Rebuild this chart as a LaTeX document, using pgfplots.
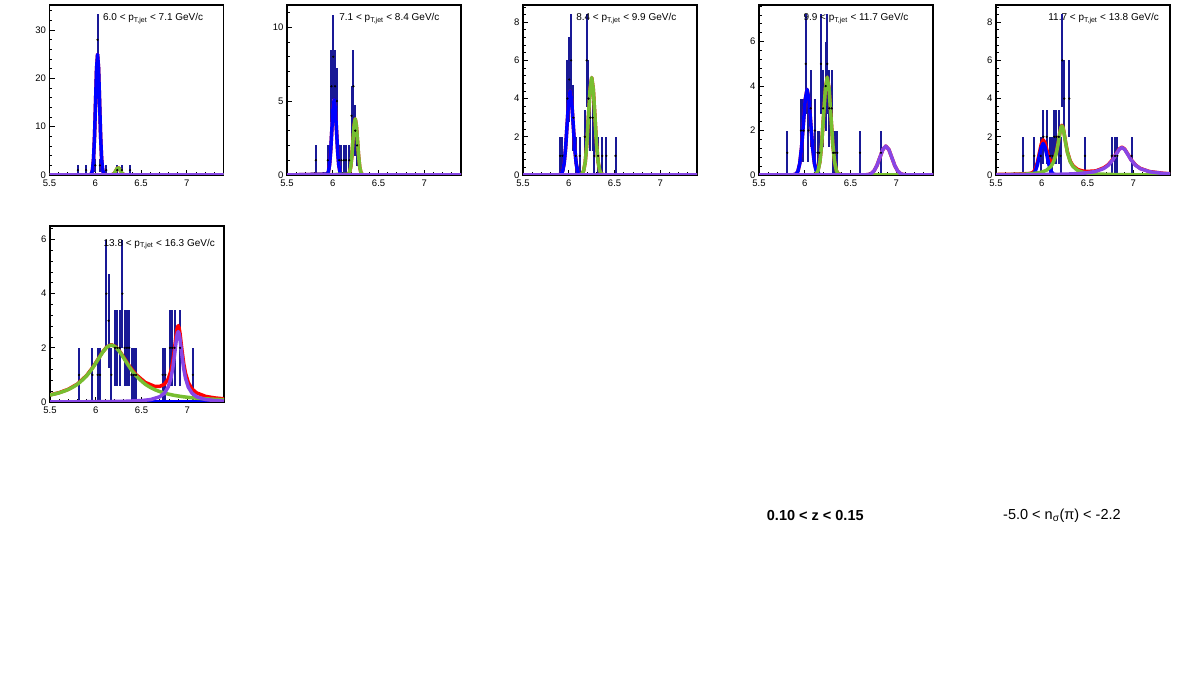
\documentclass[border=0pt]{standalone}
\usepackage{fontspec}
\setmainfont{Liberation Sans}
\usepackage{pgfplots}
\pgfplotsset{compat=1.18}
\definecolor{navy}{RGB}{25,25,150}
\definecolor{fblue}{RGB}{0,0,255}
\definecolor{fred}{RGB}{255,0,0}
\definecolor{fgreen}{RGB}{119,190,48}
\definecolor{fviolet}{RGB}{135,70,230}
\pgfplotsset{
  rp/.style={scale only axis, width=174pt, height=170pt, xmin=5.5, xmax=7.4, ymin=0,
    axis line style={line width=1.4pt}, tick align=inside, xtick pos=left, ytick pos=left,
    xtick={5.5,6,6.5,7}, xticklabels={5.5,6,6.5,7},
    minor xtick={5.6,5.7,5.8,5.9,6.1,6.2,6.3,6.4,6.6,6.7,6.8,6.9,7.1,7.2,7.3},
    major tick length=5pt, minor tick length=2.5pt,
    tick style={black, line width=0.8pt},
    tick label style={font=\fontsize{9.5}{10}\selectfont, black},
    xticklabel style={yshift=-1.5pt},
    /pgf/number format/assume math mode=true, scaled ticks=false, anchor=south west},
  dat/.style={only marks, mark=*, mark size=0.9pt, black, mark options={fill=black},
    error bars/y dir=both, error bars/y explicit, error bars/error mark=none,
    error bars/error bar style={draw=navy, solid, line width=2pt}},
  fit/.style={line width=3.5pt, line join=round},
}
\tikzset{ttl/.style={anchor=base west, font=\fontsize{10}{12}\selectfont, inner sep=0pt}}
\begin{document}
\begin{tikzpicture}
\path[use as bounding box, fill=white] (0pt,0pt) rectangle (1181pt,677pt);

% ---------------- Panel 1
\begin{axis}[rp, at={(49.5pt,502pt)}, ymax=35.2, ytick={0,10,20,30},
  minor ytick={2,4,6,8,12,14,16,18,22,24,26,28,32,34}]
\addplot[dat] table[row sep=\\, x=x, y=y, y error=e] {x y e\\
5.81 1 1\\ 5.90 1 1\\ 6.00 2 1.414\\ 6.025 28 5.29\\ 6.05 2 1.414\\ 6.12 1 1\\ 6.24 1 1\\ 6.29 1 1\\ 6.38 1 1\\};
\addplot[fit, fred] coordinates {(5.5,0)(5.937,0.0075)(5.959,0.28)(5.97,1.10)(5.981,3.38)(5.992,8.12)(6.003,15.16)(6.014,22.06)(6.025,25)(6.036,22.06)(6.047,15.16)(6.058,8.12)(6.069,3.38)(6.08,1.10)(6.091,0.28)(6.113,0.0075)(6.175,0.017)(6.2,0.203)(6.2125,0.487)(6.225,0.91)(6.2375,1.324)(6.25,1.5)(6.2625,1.324)(6.275,0.91)(6.2875,0.487)(6.3,0.203)(6.325,0.017)(7.4,0)};
\addplot[fit, fblue] coordinates {(5.5,0)(5.937,0.0075)(5.959,0.28)(5.97,1.10)(5.981,3.38)(5.992,8.12)(6.003,15.16)(6.014,22.06)(6.025,25)(6.036,22.06)(6.047,15.16)(6.058,8.12)(6.069,3.38)(6.08,1.10)(6.091,0.28)(6.113,0.0075)(7.4,0)};
\addplot[fit, fgreen] coordinates {(5.5,0)(6.175,0.017)(6.2,0.203)(6.2125,0.487)(6.225,0.91)(6.2375,1.324)(6.25,1.5)(6.2625,1.324)(6.275,0.91)(6.2875,0.487)(6.3,0.203)(6.325,0.017)(7.4,0)};
\addplot[fit, fviolet] coordinates {(5.5,0)(7.4,0)};
\node[ttl] at (rel axis cs:0.307,0.908) {6.0 < p\textsubscript{T,jet} < 7.1 GeV/c};
\end{axis}

% ---------------- Panel 2
\begin{axis}[rp, at={(287pt,502pt)}, ymax=11.5, ytick={0,5,10},
  minor ytick={1,2,3,4,6,7,8,9,11}]
\addplot[dat] table[row sep=\\, x=x, y=y, y error=e] {x y e\\
5.815 1 1\\ 5.945 1 1\\ 5.985 6 2.449\\ 6.005 8 2.828\\ 6.025 6 2.449\\ 6.045 5 2.236\\ 6.07 1 1\\ 6.095 1 1\\ 6.12 1 1\\ 6.145 1 1\\ 6.18 1 1\\ 6.205 4 2\\ 6.225 6 2.449\\ 6.245 3 1.732\\ 6.265 2 1.414\\};
\addplot[fit, fred] coordinates {(5.5,0)(5.94,0.057)(5.9525,0.224)(5.965,0.69)(5.9775,1.656)(5.99,3.093)(6.0025,4.501)(6.015,5.1)(6.0275,4.501)(6.04,3.093)(6.0525,1.656)(6.065,0.69)(6.0775,0.224)(6.09,0.057)(6.115,0.0015)(6.17,0.042)(6.1825,0.167)(6.195,0.514)(6.2075,1.234)(6.22,2.305)(6.2325,3.354)(6.245,3.8)(6.2575,3.354)(6.27,2.305)(6.2825,1.234)(6.295,0.514)(6.3075,0.167)(6.32,0.042)(6.345,0.001)(7.4,0)};
\addplot[fit, fblue] coordinates {(5.5,0)(5.94,0.057)(5.9525,0.224)(5.965,0.69)(5.9775,1.656)(5.99,3.093)(6.0025,4.501)(6.015,5.1)(6.0275,4.501)(6.04,3.093)(6.0525,1.656)(6.065,0.69)(6.0775,0.224)(6.09,0.057)(6.115,0.0015)(7.4,0)};
\addplot[fit, fgreen] coordinates {(5.5,0)(6.17,0.042)(6.1825,0.167)(6.195,0.514)(6.2075,1.234)(6.22,2.305)(6.2325,3.354)(6.245,3.8)(6.2575,3.354)(6.27,2.305)(6.2825,1.234)(6.295,0.514)(6.3075,0.167)(6.32,0.042)(6.345,0.001)(7.4,0)};
\addplot[fit, fviolet] coordinates {(5.5,0)(7.4,0)};
\node[ttl] at (rel axis cs:0.300,0.908) {7.1 < p\textsubscript{T,jet} < 8.4 GeV/c};
\end{axis}

% ---------------- Panel 3
\begin{axis}[rp, at={(523pt,502pt)}, ymax=8.9, ytick={0,2,4,6,8},
  minor ytick={0.4,0.8,1.2,1.6,2.4,2.8,3.2,3.6,4.4,4.8,5.2,5.6,6.4,6.8,7.2,7.6,8.4,8.8}]
\addplot[dat] table[row sep=\\, x=x, y=y, y error=e] {x y e\\
5.905 1 1\\ 5.93 1 1\\ 5.985 4 2\\ 6.005 5 2.236\\ 6.025 6 2.449\\ 6.05 3 1.732\\ 6.075 1 1\\ 6.12 1 1\\ 6.175 2 1.414\\ 6.195 6 2.449\\ 6.215 4 2\\ 6.235 3 1.732\\ 6.26 3 1.732\\ 6.28 1 1\\ 6.32 1 1\\ 6.365 1 1\\ 6.41 1 1\\ 6.51 1 1\\};
\addplot[fit, fred] coordinates {(5.5,0)(5.883,0.0013)(5.916,0.049)(5.9325,0.193)(5.949,0.595)(5.9655,1.429)(5.982,2.669)(5.9985,3.883)(6.015,4.4)(6.0315,3.883)(6.048,2.669)(6.0645,1.429)(6.081,0.595)(6.0975,0.193)(6.114,0.049)(6.13,0.03)(6.145,0.06)(6.1625,0.224)(6.18,0.69)(6.1975,1.656)(6.215,3.093)(6.2325,4.501)(6.25,5.1)(6.2675,4.501)(6.285,3.093)(6.3025,1.656)(6.32,0.69)(6.3375,0.224)(6.355,0.057)(6.39,0.0015)(7.4,0)};
\addplot[fit, fblue] coordinates {(5.5,0)(5.883,0.0013)(5.916,0.049)(5.9325,0.193)(5.949,0.595)(5.9655,1.429)(5.982,2.669)(5.9985,3.883)(6.015,4.4)(6.0315,3.883)(6.048,2.669)(6.0645,1.429)(6.081,0.595)(6.0975,0.193)(6.114,0.049)(6.147,0.0013)(7.4,0)};
\addplot[fit, fgreen] coordinates {(5.5,0)(6.11,0.0015)(6.145,0.057)(6.1625,0.224)(6.18,0.69)(6.1975,1.656)(6.215,3.093)(6.2325,4.501)(6.25,5.1)(6.2675,4.501)(6.285,3.093)(6.3025,1.656)(6.32,0.69)(6.3375,0.224)(6.355,0.057)(6.39,0.0015)(7.4,0)};
\addplot[fit, fviolet] coordinates {(5.5,0)(7.4,0)};
\node[ttl] at (rel axis cs:0.305,0.908) {8.4 < p\textsubscript{T,jet} < 9.9 GeV/c};
\end{axis}

% ---------------- Panel 4
\begin{axis}[rp, at={(759pt,502pt)}, ymax=7.65, ytick={0,2,4,6},
  minor ytick={0.4,0.8,1.2,1.6,2.4,2.8,3.2,3.6,4.4,4.8,5.2,5.6,6.4,6.8,7.2,7.6}]
\addplot[dat] table[row sep=\\, x=x, y=y, y error=e] {x y e\\
5.809 1 1\\ 5.958 2 1.414\\ 5.985 2 1.414\\ 6.01 5 2.236\\ 6.04 2 1.414\\ 6.064 3 1.732\\ 6.11 2 1.414\\ 6.14 1 1\\ 6.158 1 1\\ 6.177 5 2.236\\ 6.2 3 1.732\\ 6.228 4 2\\ 6.245 5 2.236\\ 6.268 3 1.732\\ 6.293 3 1.732\\ 6.31 1 1\\ 6.33 1 1\\ 6.355 1 1\\ 6.603 1 1\\ 6.832 1 1\\};
\addplot[fit, fred] coordinates {(5.5,0)(5.865,0.0013)(5.905,0.043)(5.925,0.169)(5.945,0.521)(5.965,1.25)(5.985,2.335)(6.005,3.398)(6.025,3.85)(6.045,3.398)(6.065,2.335)(6.085,1.25)(6.105,0.531)(6.125,0.218)(6.145,0.236)(6.165,0.595)(6.185,1.429)(6.205,2.669)(6.225,3.883)(6.245,4.4)(6.265,3.883)(6.285,2.669)(6.305,1.429)(6.325,0.595)(6.345,0.193)(6.365,0.049)(6.405,0.0015)(6.625,0.0004)(6.69,0.0144)(6.7225,0.057)(6.755,0.176)(6.7875,0.422)(6.82,0.789)(6.8525,1.147)(6.885,1.3)(6.9175,1.147)(6.95,0.789)(6.9825,0.422)(7.015,0.176)(7.0475,0.057)(7.08,0.0144)(7.145,0.0004)(7.4,0)};
\addplot[fit, fblue] coordinates {(5.5,0)(5.865,0.0013)(5.905,0.043)(5.925,0.169)(5.945,0.521)(5.965,1.25)(5.985,2.335)(6.005,3.398)(6.025,3.85)(6.045,3.398)(6.065,2.335)(6.085,1.25)(6.105,0.521)(6.125,0.169)(6.145,0.043)(6.185,0.0013)(7.4,0)};
\addplot[fit, fgreen] coordinates {(5.5,0)(6.085,0.0015)(6.125,0.049)(6.145,0.193)(6.165,0.595)(6.185,1.429)(6.205,2.669)(6.225,3.883)(6.245,4.4)(6.265,3.883)(6.285,2.669)(6.305,1.429)(6.325,0.595)(6.345,0.193)(6.365,0.049)(6.405,0.0015)(7.4,0)};
\addplot[fit, fviolet] coordinates {(5.5,0)(6.625,0.0004)(6.69,0.0144)(6.7225,0.057)(6.755,0.176)(6.7875,0.422)(6.82,0.789)(6.8525,1.147)(6.885,1.3)(6.9175,1.147)(6.95,0.789)(6.9825,0.422)(7.015,0.176)(7.0475,0.057)(7.08,0.0144)(7.145,0.0004)(7.4,0)};
\node[ttl] at (rel axis cs:0.255,0.908) {9.9 < p\textsubscript{T,jet} < 11.7 GeV/c};
\end{axis}

% ---------------- Panel 5
\begin{axis}[rp, at={(996pt,502pt)}, ymax=8.9, ytick={0,2,4,6,8},
  minor ytick={0.4,0.8,1.2,1.6,2.4,2.8,3.2,3.6,4.4,4.8,5.2,5.6,6.4,6.8,7.2,7.6,8.4,8.8}]
\addplot[dat] table[row sep=\\, x=x, y=y, y error=e] {x y e\\
5.798 1 1\\ 5.918 1 1\\ 5.988 1 1\\ 6.017 2 1.414\\ 6.053 2 1.414\\ 6.09 1 1\\ 6.115 1 1\\ 6.137 2 1.414\\ 6.16 2 1.414\\ 6.186 2 1.414\\ 6.205 1 1\\ 6.224 6 2.449\\ 6.245 4 2\\ 6.3 4 2\\ 6.472 1 1\\ 6.764 1 1\\ 6.8 1 1\\ 6.825 1 1\\ 6.98 1 1\\};
\addplot[fit, fred] coordinates {(5.5,0.024)(5.7,0.040)(5.85,0.071)(5.889,0.103)(5.91,0.166)(5.931,0.330)(5.952,0.657)(5.973,1.139)(5.994,1.618)(6.015,1.842)(6.036,1.687)(6.057,1.283)(6.078,0.892)(6.099,0.685)(6.12,0.692)(6.141,0.881)(6.16,1.202)(6.18,1.707)(6.2,2.298)(6.21,2.516)(6.22,2.599)(6.23,2.518)(6.24,2.300)(6.26,1.713)(6.28,1.207)(6.31,0.736)(6.34,0.487)(6.39,0.294)(6.44,0.215)(6.49,0.184)(6.59,0.214)(6.675,0.371)(6.725,0.534)(6.775,0.814)(6.815,1.132)(6.845,1.360)(6.875,1.458)(6.905,1.356)(6.935,1.125)(6.975,0.802)(7.025,0.516)(7.075,0.345)(7.175,0.180)(7.325,0.088)(7.4,0.066)};
\addplot[fit, fblue] coordinates {(5.5,0)(5.847,0.0006)(5.889,0.018)(5.91,0.072)(5.931,0.223)(5.952,0.536)(5.973,1.0)(5.994,1.456)(6.015,1.65)(6.036,1.456)(6.057,1.0)(6.078,0.536)(6.099,0.223)(6.12,0.072)(6.141,0.018)(6.183,0.0006)(7.4,0)};
\addplot[fit, fgreen] coordinates {(5.5,0.0149)(5.7,0.0284)(5.85,0.0556)(5.95,0.1024)(6.0,0.151)(6.05,0.2436)(6.1,0.446)(6.13,0.699)(6.16,1.173)(6.18,1.681)(6.2,2.27)(6.21,2.488)(6.22,2.57)(6.23,2.488)(6.24,2.27)(6.26,1.681)(6.28,1.173)(6.31,0.699)(6.34,0.446)(6.39,0.2436)(6.44,0.151)(6.49,0.1024)(6.59,0.0556)(6.74,0.0284)(6.94,0.0149)(7.14,0.0092)(7.4,0.0056)};
\addplot[fit, fviolet] coordinates {(5.5,0.0092)(5.875,0.0172)(6.075,0.0267)(6.275,0.0468)(6.425,0.0812)(6.575,0.1706)(6.675,0.3344)(6.725,0.5035)(6.775,0.7886)(6.815,1.110)(6.845,1.340)(6.875,1.44)(6.905,1.340)(6.935,1.110)(6.975,0.7886)(7.025,0.5035)(7.075,0.3344)(7.175,0.1706)(7.325,0.0812)(7.4,0.0606)};
\node[ttl] at (rel axis cs:0.300,0.908) {11.7 < p\textsubscript{T,jet} < 13.8 GeV/c};
\end{axis}

% ---------------- Panel 6
\begin{axis}[rp, at={(50pt,275pt)}, height=176pt, ymax=6.5, ytick={0,2,4,6},
  minor ytick={0.4,0.8,1.2,1.6,2.4,2.8,3.2,3.6,4.4,4.8,5.2,5.6,6.4}]
\addplot[dat] table[row sep=\\, x=x, y=y, y error=e] {x y e\\
5.817 1 1\\ 5.963 1 1\\ 6.02 1 1\\ 6.046 1 1\\ 6.115 4 2\\ 6.14 3 1.732\\ 6.17 1 1\\ 6.21 2 1.414\\ 6.235 2 1.414\\ 6.26 2 1.414\\ 6.29 4 2\\ 6.315 2 1.414\\ 6.34 2 1.414\\ 6.365 2 1.414\\ 6.39 1 1\\ 6.415 1 1\\ 6.44 1 1\\ 6.73 1 1\\ 6.76 1 1\\ 6.81 2 1.414\\ 6.835 2 1.414\\ 6.86 2 1.414\\ 6.92 2 1.414\\ 7.06 1 1\\};
\addplot[fit, fred] coordinates {(5.5,0.261)(5.6,0.344)(5.7,0.469)(5.8,0.665)(5.9,0.979)(5.97,1.290)(6.02,1.555)(6.07,1.822)(6.12,2.033)(6.17,2.116)(6.22,2.037)(6.27,1.831)(6.32,1.569)(6.37,1.310)(6.44,1.010)(6.54,0.723)(6.64,0.581)(6.7,0.578)(6.75,0.657)(6.79,0.844)(6.82,1.146)(6.84,1.490)(6.86,1.986)(6.88,2.547)(6.89,2.748)(6.9,2.820)(6.91,2.737)(6.92,2.525)(6.94,1.942)(6.96,1.424)(6.98,1.058)(7.01,0.721)(7.05,0.485)(7.1,0.337)(7.2,0.207)(7.3,0.150)(7.4,0.117)};
\addplot[fit, fblue] coordinates {(5.5,0)(7.4,0)};
\addplot[fit, fgreen, smooth] coordinates {(5.5,0.2567)(5.6,0.3387)(5.7,0.463)(5.8,0.658)(5.9,0.9695)(5.97,1.280)(6.02,1.544)(6.07,1.810)(6.12,2.019)(6.17,2.1)(6.22,2.019)(6.27,1.810)(6.32,1.544)(6.37,1.280)(6.44,0.9695)(6.54,0.658)(6.64,0.463)(6.74,0.3387)(6.84,0.2567)(6.94,0.2003)(7.04,0.1602)(7.17,0.1235)(7.4,0.0833)};
\addplot[fit, fviolet] coordinates {(5.5,0.0043)(6.0,0.0104)(6.3,0.0233)(6.5,0.0518)(6.6,0.0906)(6.7,0.1954)(6.75,0.328)(6.79,0.550)(6.82,0.875)(6.84,1.233)(6.86,1.742)(6.88,2.315)(6.89,2.522)(6.9,2.6)(6.91,2.522)(6.92,2.315)(6.94,1.742)(6.96,1.233)(6.98,0.875)(7.01,0.550)(7.05,0.328)(7.1,0.1954)(7.2,0.0906)(7.3,0.0518)(7.4,0.0334)};
\node[ttl] at (rel axis cs:0.307,0.886) {13.8 < p\textsubscript{T,jet} < 16.3 GeV/c};
\end{axis}

\node[anchor=west, inner sep=0pt, font=\fontsize{14.5}{16}\selectfont\bfseries] at (766.7pt,161pt) {0.10 < z < 0.15};
\node[anchor=west, inner sep=0pt, font=\fontsize{14.5}{16}\selectfont] at (1003pt,161pt) {-5.0 < n\textsubscript{σ}(π) < -2.2};
\end{tikzpicture}
\end{document}
